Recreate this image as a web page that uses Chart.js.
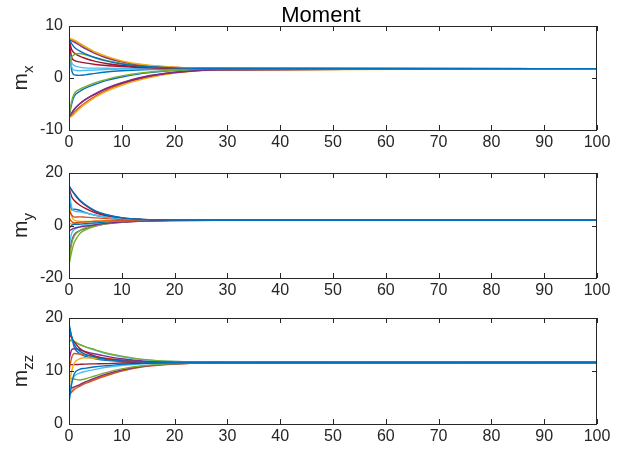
<!DOCTYPE html>
<html>
<head>
<meta charset="utf-8">
<script src="https://cdn.jsdelivr.net/npm/chart.js@4"></script>
<style>
  body { margin: 0; background: #fff; width: 618px; height: 457px; position: relative; overflow: hidden; }
  canvas { position: absolute; left: 0; }
</style>
</head>
<body>
<canvas id="chartMx" width="618" height="152" style="top:0px"></canvas>
<canvas id="chartMy" width="618" height="148" style="top:152px"></canvas>
<canvas id="chartMzz" width="618" height="146" style="top:300px"></canvas>
<script>
// sample times (s)
const times = [0, 0.5, 1, 2, 3, 5, 7, 10, 14, 20, 28, 100];

// m_x, one row per trajectory
const mxValues = [
    [7.5, 6.6, 5.9, 5.2, 4.7, 3.9, 3.3, 2.7, 2.25, 1.95, 1.83, 1.8],
    [7.6, 7.5, 7.3, 6.7, 6.1, 5.0, 4.2, 3.3, 2.6, 2.1, 1.86, 1.8],
    [7.5, 7.4, 7.2, 6.6, 6.0, 4.9, 4.1, 3.2, 2.5, 2.05, 1.85, 1.8],
    [7.4, 7.2, 6.9, 6.3, 5.7, 4.7, 3.9, 3.1, 2.45, 2.03, 1.84, 1.8],
    [2.5, 4.0, 4.5, 4.7, 4.5, 3.9, 3.4, 2.8, 2.3, 2.0, 1.84, 1.8],
    [7.5, 5.5, 4.8, 4.2, 3.8, 3.2, 2.8, 2.4, 2.1, 1.9, 1.82, 1.8],
    [7.4, 4.0, 3.4, 3.1, 2.9, 2.6, 2.4, 2.2, 2.0, 1.88, 1.82, 1.8],
    [5.5, 3.0, 2.4, 2.1, 1.95, 1.9, 1.87, 1.85, 1.83, 1.81, 1.8, 1.8],
    [7.0, 2.2, 1.5, 1.4, 1.45, 1.55, 1.62, 1.7, 1.76, 1.79, 1.8, 1.8],
    [7.5, 1.5, 0.6, 0.5, 0.6, 0.9, 1.15, 1.4, 1.6, 1.73, 1.78, 1.8],
    [-7.5, -4.5, -3.0, -2.2, -1.7, -0.9, -0.3, 0.4, 1.0, 1.5, 1.72, 1.8],
    [-7.5, -5.0, -3.5, -2.6, -2.0, -1.2, -0.5, 0.2, 0.9, 1.45, 1.7, 1.8],
    [-7.5, -6.8, -6.0, -5.0, -4.2, -3.0, -2.0, -0.9, 0.2, 1.1, 1.6, 1.8],
    [-7.3, -6.7, -6.0, -5.0, -4.2, -3.1, -2.1, -1.0, 0.1, 1.05, 1.6, 1.8],
    [-7.6, -7.4, -6.9, -5.9, -5.1, -3.7, -2.6, -1.4, -0.2, 0.95, 1.55, 1.8],
    [-7.5, -7.2, -6.6, -5.6, -4.8, -3.5, -2.4, -1.2, -0.05, 1.0, 1.57, 1.8]
];
const mxColors = ['#0072BD', '#EDB120', '#D95319', '#7E2F8E', '#77AC30', '#A2142F', '#A2142F', '#4DBEEE',
    '#4DBEEE', '#0072BD', '#77AC30', '#0072BD', '#7E2F8E', '#A2142F', '#EDB120', '#D95319'];

// m_y
const myValues = [
    [15.2, 13.6, 12.2, 9.8, 8.1, 5.6, 4.2, 3.0, 2.35, 2.06, 2.0, 2.0],
    [15, 13.5, 12, 9.5, 7.8, 5.3, 4.0, 2.9, 2.3, 2.05, 2.0, 2.0],
    [14, 7.0, 5.5, 5.2, 4.8, 3.9, 3.2, 2.6, 2.2, 2.03, 2.0, 2.0],
    [12, 6.0, 6.2, 5.8, 5.0, 3.9, 3.2, 2.6, 2.2, 2.03, 2.0, 2.0],
    [6, 4.0, 3.2, 3.3, 3.2, 2.9, 2.6, 2.3, 2.1, 2.02, 2.0, 2.0],
    [3, 1.5, 1.0, 1.2, 1.4, 1.6, 1.75, 1.85, 1.95, 1.99, 2.0, 2.0],
    [8, 3.5, 2.0, 1.6, 1.5, 1.6, 1.7, 1.85, 1.95, 1.99, 2.0, 2.0],
    [-2, -1.5, -1.0, -0.6, -0.3, 0.3, 0.8, 1.3, 1.7, 1.9, 1.98, 2.0],
    [-15, -10, -6.5, -3.2, -1.8, -0.2, 0.6, 1.3, 1.75, 1.95, 2.0, 2.0],
    [-14, -7, -4, -2, -1, 0.2, 0.9, 1.4, 1.8, 1.95, 2.0, 2.0],
    [-12, -6, -3.5, -2.0, -1.2, -0.2, 0.6, 1.2, 1.7, 1.93, 2.0, 2.0],
    [-1, 0, 0.5, 0.5, 0.7, 1.0, 1.3, 1.6, 1.85, 1.97, 2.0, 2.0],
    [1, 0.5, 0.8, 1.0, 1.2, 1.5, 1.7, 1.85, 1.95, 1.99, 2.0, 2.0],
    [-8, -3, -1.5, -0.5, 0.2, 0.9, 1.3, 1.65, 1.88, 1.98, 2.0, 2.0],
    [14.5, 11, 9.5, 7.8, 6.6, 4.8, 3.7, 2.8, 2.25, 2.03, 2.0, 2.0]
];
const myColors = ['#0072BD', '#A2142F', '#4DBEEE', '#0072BD', '#D95319', '#D95319', '#EDB120', '#7E2F8E',
    '#77AC30', '#77AC30', '#7E2F8E', '#0072BD', '#EDB120', '#4DBEEE', '#A2142F'];

// m_zz
const mzzValues = [
    [18.5, 16.5, 15.0, 13.8, 13.2, 12.6, 12.2, 11.9, 11.7, 11.62, 11.6, 11.6],
    [17, 16.3, 15.5, 14.3, 13.6, 12.8, 12.3, 11.95, 11.72, 11.63, 11.6, 11.6],
    [15.5, 15.8, 15.6, 15.0, 14.6, 14.0, 13.4, 12.8, 12.2, 11.8, 11.65, 11.6],
    [16, 15.7, 15.4, 15.0, 14.6, 13.9, 13.3, 12.7, 12.15, 11.78, 11.64, 11.6],
    [12, 14, 14.2, 14.0, 13.7, 13.2, 12.8, 12.3, 11.9, 11.7, 11.62, 11.6],
    [10, 12.5, 13.3, 13.2, 13.0, 12.7, 12.4, 12.1, 11.8, 11.65, 11.6, 11.6],
    [7, 10, 11.5, 12.3, 12.5, 12.4, 12.2, 11.95, 11.75, 11.64, 11.6, 11.6],
    [11.2, 11.2, 11.2, 11.25, 11.3, 11.35, 11.4, 11.5, 11.55, 11.58, 11.6, 11.6],
    [4, 7.5, 9.5, 10.3, 10.5, 10.8, 11.0, 11.25, 11.45, 11.55, 11.6, 11.6],
    [5, 8, 9.0, 9.6, 9.9, 10.3, 10.7, 11.05, 11.35, 11.52, 11.58, 11.6],
    [8.5, 8.6, 8.5, 8.3, 8.5, 9.1, 9.7, 10.4, 11.0, 11.4, 11.57, 11.6],
    [6.5, 6.8, 7.0, 7.4, 7.9, 8.7, 9.4, 10.2, 10.9, 11.35, 11.56, 11.6],
    [5.5, 6.0, 6.5, 7.1, 7.6, 8.4, 9.1, 10.0, 10.8, 11.3, 11.55, 11.6],
    [6, 6.2, 6.8, 7.4, 7.9, 8.6, 9.3, 10.1, 10.85, 11.32, 11.55, 11.6],
    [19, 16.5, 14.5, 13.3, 12.8, 12.3, 12.0, 11.8, 11.67, 11.61, 11.6, 11.6]
];
const mzzColors = ['#0072BD', '#A2142F', '#77AC30', '#4DBEEE', '#7E2F8E', '#D95319', '#EDB120', '#A2142F',
    '#0072BD', '#4DBEEE', '#77AC30', '#7E2F8E', '#D95319', '#EDB120', '#0072BD'];

Chart.defaults.font.family = "'Liberation Sans', Arial, sans-serif";
Chart.defaults.font.size = 16;
Chart.defaults.color = '#262626';

// box, inward ticks, and the y label with subscript (MATLAB look)
const matlabAxes = {
    id: 'matlabAxes',
    afterDatasetsDraw(chart, args, opts) {
        const ctx = chart.ctx;
        const a = chart.chartArea;
        const xs = chart.scales.x, ys = chart.scales.y;
        ctx.save();
        ctx.strokeStyle = '#262626';
        ctx.lineWidth = 1;
        ctx.beginPath();
        xs.ticks.forEach(t => {
            const px = Math.round(xs.getPixelForValue(t.value)) + 0.5;
            ctx.moveTo(px, a.bottom); ctx.lineTo(px, a.bottom - 5);
            ctx.moveTo(px, a.top); ctx.lineTo(px, a.top + 5);
        });
        ys.ticks.forEach(t => {
            const py = Math.round(ys.getPixelForValue(t.value)) + 0.5;
            ctx.moveTo(a.left, py); ctx.lineTo(a.left + 5, py);
            ctx.moveTo(a.right, py); ctx.lineTo(a.right - 5, py);
        });
        ctx.stroke();
        ctx.strokeRect(Math.round(a.left) + 0.5, Math.round(a.top) + 0.5,
            Math.round(a.right - a.left) - 1, Math.round(a.bottom - a.top));

        // y label
        ctx.fillStyle = '#262626';
        ctx.translate(27, (a.top + a.bottom) / 2);
        ctx.rotate(-Math.PI / 2);
        ctx.font = "21px 'Liberation Sans', Arial, sans-serif";
        const wMain = ctx.measureText(opts.main).width;
        ctx.font = "15px 'Liberation Sans', Arial, sans-serif";
        const wSub = ctx.measureText(opts.sub).width;
        const start = -(wMain + wSub) / 2;
        ctx.font = "21px 'Liberation Sans', Arial, sans-serif";
        ctx.textBaseline = 'alphabetic';
        ctx.textAlign = 'left';
        ctx.fillText(opts.main, start, 0);
        ctx.font = "15px 'Liberation Sans', Arial, sans-serif";
        ctx.fillText(opts.sub, start + wMain, 6);
        ctx.restore();

        if (opts.title) {
            ctx.save();
            ctx.fillStyle = '#000';
            ctx.font = "22px 'Liberation Sans', Arial, sans-serif";
            ctx.textAlign = 'center';
            ctx.textBaseline = 'alphabetic';
            ctx.fillText(opts.title, 321, 22);
            ctx.restore();
        }
    }
};

function makeChart(id, values, colors, yMin, yMax, yStep, padTop, label, title) {
    const datasets = values.map((row, i) => ({
        data: row.map((v, j) => ({ x: times[j], y: v })),
        borderColor: colors[i],
        borderWidth: 1.4,
        pointRadius: 0,
        fill: false,
        cubicInterpolationMode: 'monotone'
    }));
    return new Chart(document.getElementById(id), {
        type: 'line',
        data: { datasets: datasets },
        options: {
            responsive: false,
            animation: false,
            events: [],
            layout: { padding: { left: 0, right: 21, top: padTop, bottom: 0 } },
            plugins: {
                legend: { display: false },
                tooltip: { enabled: false },
                matlabAxes: { main: label[0], sub: label[1], title: title }
            },
            scales: {
                x: {
                    type: 'linear', min: 0, max: 100,
                    ticks: { stepSize: 10, padding: 3, maxRotation: 0 },
                    grid: { display: false, drawTicks: false },
                    border: { display: false },
                    afterFit: s => { s.height = 22; }
                },
                y: {
                    min: yMin, max: yMax,
                    ticks: { stepSize: yStep, padding: 6 },
                    grid: { display: false, drawTicks: false },
                    border: { display: false },
                    afterFit: s => { s.width = 69; }
                }
            }
        },
        plugins: [matlabAxes]
    });
}

makeChart('chartMx', mxValues, mxColors, -10, 10, 10, 26, ['m', 'x'], 'Moment');
makeChart('chartMy', myValues, myColors, -20, 20, 20, 21, ['m', 'y'], null);
makeChart('chartMzz', mzzValues, mzzColors, 0, 20, 10, 18, ['m', 'zz'], null);
</script>
</body>
</html>
